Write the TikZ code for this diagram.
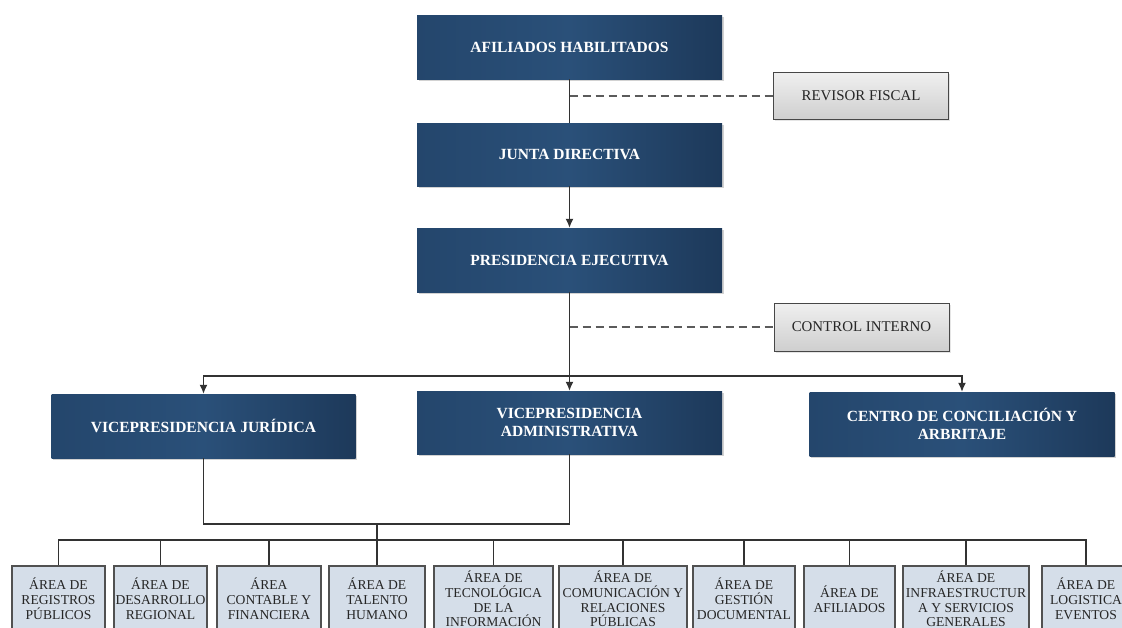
\documentclass[tikz,border=0pt]{standalone}
\usepackage{fontspec}
\setmainfont{Liberation Serif}
\usetikzlibrary{arrows.meta,shadows}
\definecolor{navyl}{RGB}{36,70,108}
\definecolor{navym}{RGB}{42,80,121}
\definecolor{navyr}{RGB}{29,57,90}
\definecolor{areafill}{RGB}{213,222,233}
\definecolor{linegray}{RGB}{50,50,50}
\tikzstyle{head} = [draw=none,left color=navyl,right color=navyr,middle color=navym,text=white,font=\fontsize{15.5}{17.5}\selectfont\bfseries,align=center,minimum width=305pt,minimum height=64pt,inner sep=0pt,drop shadow={shadow xshift=1.5pt,shadow yshift=-1.5pt,fill=black!35}]
\tikzstyle{aux} = [draw=linegray!90,line width=1pt,top color=gray!12,bottom color=gray!38,text=black!85,font=\fontsize{14.9}{16}\selectfont,minimum width=175pt,minimum height=47pt,inner sep=0pt,drop shadow={shadow xshift=1.5pt,shadow yshift=-1.5pt,fill=black!20}]
\tikzstyle{area} = [draw=linegray!85,line width=1.3pt,fill=areafill,text=black!85,font=\fontsize{13.6}{14.8}\selectfont,align=center,minimum height=66pt,inner sep=0pt]
\tikzstyle{link} = [draw=linegray,line width=1.3pt]
\tikzstyle{arr} = [link,-{Latex[length=9pt,width=8pt]}]
\tikzstyle{dashline} = [draw=linegray!80,line width=1.4pt,dash pattern=on 8pt off 5pt]

\begin{document}
\begin{tikzpicture}[x=1pt,y=-1pt]
\useasboundingbox (0,0) rectangle (1122,627);
\clip (0,0) rectangle (1122,627);

% upper levels
\node[head] (afil) at (569.5,47) {AFILIADOS HABILITADOS};
\node[aux] (rev) at (861,96) {REVISOR FISCAL};
\node[head,minimum height=63pt] (junta) at (569.5,154.5) {JUNTA DIRECTIVA};
\node[head] (pres) at (569.5,260) {PRESIDENCIA EJECUTIVA};
\node[aux,minimum height=48pt] (ctrl) at (861.5,327) {CONTROL INTERNO};

\node[head,minimum width=304pt] (vj) at (203.5,426) {VICEPRESIDENCIA JURÍDICA};
\node[head,minimum height=63pt] (va) at (569.5,422.5) {VICEPRESIDENCIA\\ADMINISTRATIVA};
\node[head] (centro) at (962,424) {CENTRO DE CONCILIACIÓN Y\\ARBRITAJE};

% areas
\node[area,minimum width=93pt] (b1) at (58.5,599) {ÁREA DE\\REGISTROS\\PÚBLICOS};
\node[area,minimum width=93pt] (b2) at (160.5,599) {ÁREA DE\\DESARROLLO\\REGIONAL};
\node[area,minimum width=104pt] (b3) at (269,599) {ÁREA\\CONTABLE Y\\FINANCIERA};
\node[area,minimum width=96pt] (b4) at (377,599) {ÁREA DE\\TALENTO\\HUMANO};
\node[area,minimum width=119pt] (b5) at (493.5,599) {ÁREA DE\\TECNOLÓGICA\\DE LA\\INFORMACIÓN};
\node[area,minimum width=128pt] (b6) at (623,599) {ÁREA DE\\COMUNICACIÓN Y\\RELACIONES\\PÚBLICAS};
\node[area,minimum width=102pt] (b7) at (744,599) {ÁREA DE\\GESTIÓN\\DOCUMENTAL};
\node[area,minimum width=91pt] (b8) at (849.5,599) {ÁREA DE\\AFILIADOS};
\node[area,minimum width=126pt] (b9) at (966,599) {ÁREA DE\\INFRAESTRUCTUR\\A Y SERVICIOS\\GENERALES};
\node[area,minimum width=88pt] (b10) at (1086,599) {ÁREA DE\\LOGISTICA\\EVENTOS};

\coordinate (rdash) at (569.5,96);
\coordinate (cdash) at (569.5,327);
\coordinate (bus) at (569.5,376);
\coordinate (join) at (377,524);
\coordinate (fork) at (377,540);

% connectors
\draw[link] (afil) -- (junta);
\draw[dashline] (rdash) -- (rev);
\draw[arr] (junta) -- (pres);
\draw[arr] (pres) -- (va);
\draw[dashline] (cdash) -- (ctrl);
\draw[arr] (bus) -| (vj.north);
\draw[arr] (bus) -| (centro.north);

\draw[link] (vj.south) |- (join);
\draw[link] (va.south) |- (join);
\draw[link] (join) -- (fork);
\draw[link] (b1.north) |- (fork) -| (b10.north);
\draw[link] (b2.north) -- (b2.north |- fork);
\draw[link] (b3.north) -- (b3.north |- fork);
\draw[link] (b4.north) -- (b4.north |- fork);
\draw[link] (b5.north) -- (b5.north |- fork);
\draw[link] (b6.north) -- (b6.north |- fork);
\draw[link] (b7.north) -- (b7.north |- fork);
\draw[link] (b8.north) -- (b8.north |- fork);
\draw[link] (b9.north) -- (b9.north |- fork);

\end{tikzpicture}
\end{document}
